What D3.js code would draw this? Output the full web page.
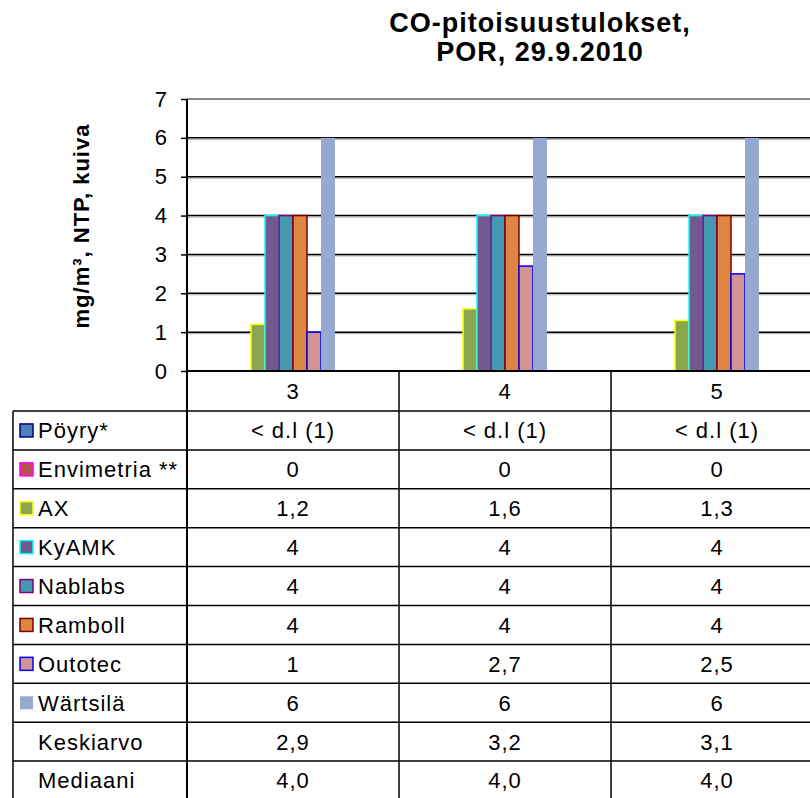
<!DOCTYPE html>
<html>
<head>
<meta charset="utf-8">
<script src="https://cdn.jsdelivr.net/npm/d3@7"></script>
<style>
  html, body { margin: 0; padding: 0; background: #fff; }
  svg { display: block; font-family: "Liberation Sans", Arial, sans-serif; }
</style>
</head>
<body>
<svg id="chart" width="810" height="798"></svg>
<script>
// ---- data ----
const titleLines = ["CO-pitoisuustulokset,", "POR, 29.9.2010"];
const yTitle = "mg/m³, NTP, kuiva";
const categories = ["3", "4", "5"];
const seriesNames = ["Pöyry*", "Envimetria **", "AX", "KyAMK", "Nablabs", "Ramboll", "Outotec", "Wärtsilä"];
const poyry = [null, null, null];          // below detection limit
const envimetria = [0, 0, 0];
const ax = [1.2, 1.6, 1.3];
const kyamk = [4, 4, 4];
const nablabs = [4, 4, 4];
const ramboll = [4, 4, 4];
const outotec = [1, 2.7, 2.5];
const wartsila = [6, 6, 6];
const keskiarvo = [2.9, 3.2, 3.1];
const mediaani = [4.0, 4.0, 4.0];
const poyryText = "< d.l (1)";
const yTicks = [0, 1, 2, 3, 4, 5, 6, 7];
const fills = ["#4F81BD", "#B5504C", "#8BA54E", "#735A8E", "#4499B0", "#DE8641", "#D39393", "#95A9D1"];
const strokes = ["#000080", "#FF00FF", "#FFFF00", "#00FFFF", "#800080", "#800000", "#0000FF", "none"];

const seriesValues = [poyry, envimetria, ax, kyamk, nablabs, ramboll, outotec, wartsila];
// chart slots include the two statistics rows (not drawn as bars)
const slotNames = seriesNames.concat(["Keskiarvo", "Mediaani"]);

// ---- layout ----
const svg = d3.select("#chart");
const plotLeft = 187, plotTop = 99, plotBottom = 371, catWidth = 212;
const tableLeft = 13, rowH = 38.9, catRowBottom = 411;
const font = "Liberation Sans, Arial, sans-serif";
const fs = 22, ls = 1;

const x0 = d3.scaleBand().domain(categories).range([plotLeft, plotLeft + catWidth * categories.length]);
const bw = x0.bandwidth();
const x1 = d3.scaleBand().domain(slotNames).range([bw * 0.17, bw * 0.83]);
const y = d3.scaleLinear().domain([0, 7]).range([plotBottom, plotTop]);

// title
svg.append("g").selectAll("text").data(titleLines).join("text")
  .attr("x", 540).attr("y", (d, i) => 32 + i * 29)
  .attr("text-anchor", "middle").attr("font-weight", "bold").attr("font-size", 27)
  .attr("letter-spacing", 1).attr("font-family", font).text(d => d);

// y title
svg.append("text")
  .attr("transform", `translate(89,${226}) rotate(-90)`)
  .attr("text-anchor", "middle").attr("font-weight", "bold").attr("font-size", 22)
  .attr("letter-spacing", 1).attr("font-family", font).text(yTitle);

// gridlines
const grid = svg.append("g");
yTicks.filter(t => t > 0 && t < 7).forEach(t => {
  grid.append("line").attr("x1", plotLeft).attr("x2", 810).attr("y1", y(t) + 1.5).attr("y2", y(t) + 1.5)
    .attr("stroke", "#aaa").attr("stroke-width", 1);
  grid.append("line").attr("x1", plotLeft).attr("x2", 810).attr("y1", y(t)).attr("y2", y(t))
    .attr("stroke", "#000").attr("stroke-width", 1.5);
});
grid.append("line").attr("x1", plotLeft).attr("x2", 810).attr("y1", y(7)).attr("y2", y(7))
  .attr("stroke", "#888").attr("stroke-width", 2);

// bars
const barData = [];
seriesValues.forEach((vals, si) => {
  vals.forEach((v, ci) => {
    if (v !== null && v > 0) barData.push({ s: seriesNames[si], si, c: categories[ci], v });
  });
});
svg.append("g").selectAll("rect").data(barData).join("rect")
  .attr("x", d => x0(d.c) + x1(d.s))
  .attr("width", x1.bandwidth())
  .attr("y", d => y(d.v))
  .attr("height", d => y(0) - y(d.v))
  .attr("fill", d => fills[d.si])
  .attr("stroke", d => strokes[d.si])
  .attr("stroke-width", 1.5);

// y axis
const yAxis = svg.append("g").attr("transform", `translate(${plotLeft},0)`)
  .call(d3.axisLeft(y).tickValues(yTicks).tickSize(6).tickPadding(14).tickFormat(d3.format("d")));
yAxis.select(".domain").remove();
yAxis.selectAll(".tick line").attr("stroke", "#000").attr("stroke-width", 1.5);
yAxis.selectAll(".tick text").attr("font-size", fs).attr("font-family", font).attr("fill", "#000");

// ---- data table ----
const fmt1 = v => d3.format(".1f")(v).replace(".", ",");
const fmtV = v => String(v).replace(".", ",");
const tableRows = seriesNames.map((n, i) => ({
  name: n, key: i,
  cells: seriesValues[i].map(v => v === null ? poyryText : fmtV(v))
})).concat([
  { name: "Keskiarvo", key: -1, cells: keskiarvo.map(fmt1) },
  { name: "Mediaani", key: -1, cells: mediaani.map(fmt1) }
]);

const tbl = svg.append("g");
const tableBottom = catRowBottom + rowH * tableRows.length;
// horizontal lines
tbl.append("line").attr("x1", plotLeft).attr("x2", 810).attr("y1", plotBottom).attr("y2", plotBottom)
  .attr("stroke", "#000").attr("stroke-width", 2);
d3.range(tableRows.length + 1).forEach(i => {
  const yy = catRowBottom + i * rowH;
  tbl.append("line").attr("x1", tableLeft).attr("x2", 810).attr("y1", yy).attr("y2", yy)
    .attr("stroke", "#000").attr("stroke-width", 1.5);
});
// vertical lines
tbl.append("line").attr("x1", tableLeft).attr("x2", tableLeft).attr("y1", catRowBottom).attr("y2", tableBottom)
  .attr("stroke", "#000").attr("stroke-width", 1.5);
tbl.append("line").attr("x1", plotLeft).attr("x2", plotLeft).attr("y1", plotTop).attr("y2", tableBottom)
  .attr("stroke", "#000").attr("stroke-width", 2);
categories.forEach(c => {
  const xx = x0(c) + bw;
  tbl.append("line").attr("x1", xx).attr("x2", xx).attr("y1", plotBottom).attr("y2", tableBottom)
    .attr("stroke", "#000").attr("stroke-width", 1.5);
});

// category labels
tbl.selectAll("text.cat").data(categories).join("text").attr("class", "cat")
  .attr("x", c => x0(c) + bw / 2).attr("y", (plotBottom + catRowBottom) / 2).attr("dy", "0.36em")
  .attr("text-anchor", "middle").attr("font-size", fs).attr("letter-spacing", ls)
  .attr("font-family", font).text(c => c);

// rows
tableRows.forEach((r, ri) => {
  const cy = catRowBottom + ri * rowH + rowH / 2;
  if (r.key >= 0) {
    tbl.append("rect").attr("x", 20).attr("y", cy - 6.5).attr("width", 13).attr("height", 13)
      .attr("fill", fills[r.key]).attr("stroke", strokes[r.key]).attr("stroke-width", 1.5);
  }
  tbl.append("text").attr("x", 38).attr("y", cy).attr("dy", "0.36em")
    .attr("font-size", fs).attr("letter-spacing", ls).attr("font-family", font).text(r.name);
  r.cells.forEach((t, ci) => {
    tbl.append("text").attr("x", x0(categories[ci]) + bw / 2).attr("y", cy).attr("dy", "0.36em")
      .attr("text-anchor", "middle").attr("font-size", fs).attr("letter-spacing", ls)
      .attr("font-family", font).text(t);
  });
});
</script>
</body>
</html>
